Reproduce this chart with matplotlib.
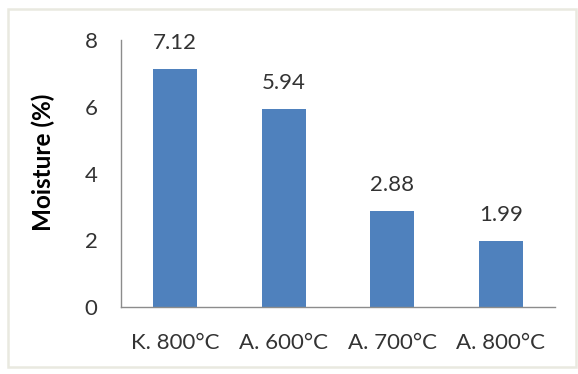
import matplotlib
matplotlib.use("Agg")
import matplotlib.pyplot as plt
from matplotlib.patches import Rectangle

categories = ["K. 800°C", "A. 600°C", "A. 700°C", "A. 800°C"]
moisture = [7.12, 5.94, 2.88, 1.99]
labels = ["7.12", "5.94", "2.88", "1.99"]
yticks = [0, 2, 4, 6, 8]

plt.rcParams["font.family"] = ["Lato", "DejaVu Sans"]

W, H = 578, 374
fig = plt.figure(figsize=(W / 100, H / 100), dpi=100)
fig.patch.set_facecolor("white")

# faint outer frame
fx0, fy0, fx1, fy1 = 8, 9, 576, 367
fig.patches.append(Rectangle((fx0 / W, 1 - fy1 / H), (fx1 - fx0) / W, (fy1 - fy0) / H,
                             transform=fig.transFigure, fill=False,
                             edgecolor="#e9e9e0", linewidth=1.8))

left, right = 121, 555
top, bottom = 40, 307
ax = fig.add_axes([left / W, 1 - bottom / H, (right - left) / W, (bottom - top) / H])

x = range(len(categories))
ax.bar(x, moisture, width=0.405, color="#4f81bd")
ax.set_xlim(-0.5, 3.5)
ax.set_ylim(0, 8)

for xi, v, t in zip(x, moisture, labels):
    ax.annotate(t, (xi, v), xytext=(0, 14.4), textcoords="offset points",
                ha="center", va="baseline", fontsize=16, color="#333333")

ax.set_yticks(yticks)
ax.set_yticklabels([str(t) for t in yticks])
ax.set_xticks(list(x))
ax.set_xticklabels(categories)
ax.tick_params(axis="y", length=0, pad=17, labelsize=16, labelcolor="#333333")
ax.tick_params(axis="x", length=0, pad=19, labelsize=16, labelcolor="#333333")

for s in ("top", "right"):
    ax.spines[s].set_visible(False)
for s in ("left", "bottom"):
    ax.spines[s].set_color("#8c8c8c")
    ax.spines[s].set_linewidth(1)

fig.text(43.5 / W, 1 - 162.5 / H, "Moisture (%)", rotation=90, ha="center", va="center",
         fontsize=17.5, fontweight="bold", color="black")

fig.savefig("out.png", dpi=100)
